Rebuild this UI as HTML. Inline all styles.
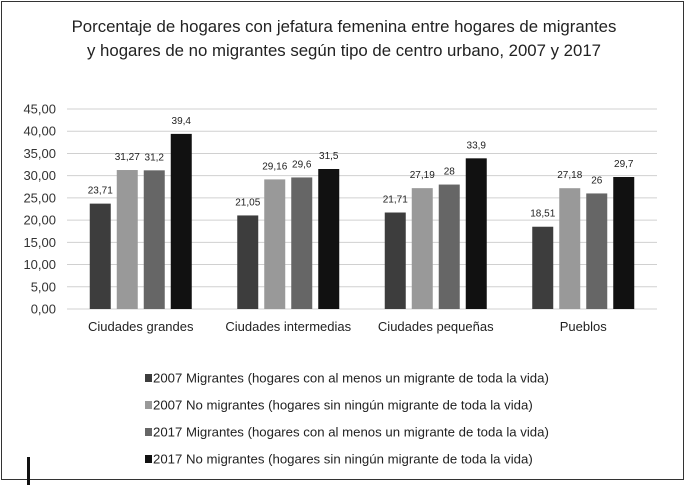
<!DOCTYPE html>
<html><head><meta charset="utf-8"><style>
body{margin:0;background:#fff;width:688px;height:485px;overflow:hidden;font-family:"Liberation Sans",sans-serif}
#frame{position:absolute;left:1px;top:1px;width:683px;height:479px;border:1.5px solid #333;box-sizing:border-box}
</style></head><body>
<div id="frame"></div>
<svg width="688" height="485" style="position:absolute;left:0;top:0">
<text x="344" y="32" text-anchor="middle" font-size="16.8" fill="#222">Porcentaje de hogares con jefatura femenina entre hogares de migrantes</text>
<text x="344" y="56" text-anchor="middle" font-size="16.8" fill="#222">y hogares de no migrantes según tipo de centro urbano, 2007 y 2017</text>
<g id="grid"></g><g id="bars"></g><g id="legend"></g>
<rect x="27" y="457" width="3" height="28" fill="#111"/>
</svg>
<script>
const categories=["Ciudades grandes","Ciudades intermedias","Ciudades pequeñas","Pueblos"];
const s2007m=[23.71,21.05,21.71,18.51];
const s2007n=[31.27,29.16,27.19,27.18];
const s2017m=[31.2,29.6,28,26];
const s2017n=[39.4,31.5,33.9,29.7];
const labels2007m=["23,71","21,05","21,71","18,51"];
const labels2007n=["31,27","29,16","27,19","27,18"];
const labels2017m=["31,2","29,6","28","26"];
const labels2017n=["39,4","31,5","33,9","29,7"];
const ticks=[0,5,10,15,20,25,30,35,40,45];
const tickLabels=["0,00","5,00","10,00","15,00","20,00","25,00","30,00","35,00","40,00","45,00"];
const seriesNames=["2007 Migrantes (hogares con al menos un migrante de toda la vida)","2007 No migrantes (hogares sin ningún migrante de toda la vida)","2017 Migrantes (hogares con al menos un migrante de toda la vida)","2017 No migrantes (hogares sin ningún migrante de toda la vida)"];
const colors=["#3d3d3d","#999999","#666666","#111111"];
const NS="http://www.w3.org/2000/svg";
const x0=67,x1=657,yb=309,yt=109,vmax=45;
const y=v=>yb-v*(yb-yt)/vmax;
const band=(x1-x0)/categories.length;
const cx=i=>x0+band*(i+0.5);
function mk(t,a,p){const e=document.createElementNS(NS,t);for(const k in a)e.setAttribute(k,a[k]);p.appendChild(e);return e;}
const g=document.getElementById('grid');
ticks.forEach((t,i)=>{
 const l=mk('line',{x1:x0,x2:x1,y1:y(t),y2:y(t),stroke:'#d0d0d0','stroke-width':1},g);
 
 
 const tx=mk('text',{x:56,y:y(t)+4.5,'text-anchor':'end','font-size':13,fill:'#333'},g);
 tx.textContent=tickLabels[i];
 
 
});
const series=[s2007m,s2007n,s2017m,s2017n],labs=[labels2007m,labels2007n,labels2017m,labels2017n];
const b=document.getElementById('bars');
const bw=21,gap=6;
categories.forEach((c,i)=>{
 const start=cx(i)-(4*bw+3*gap)/2;
 series.forEach((s,j)=>{
  const bx=start+j*(bw+gap);
  const r=mk('rect',{x:bx,y:y(s[i]),width:bw,height:yb-y(s[i]),fill:colors[j]},b);
  
  
  const t=mk('text',{x:bx+bw/2,y:y(s[i])-10,'text-anchor':'middle','font-size':10,fill:'#222'},b);
  t.textContent=labs[j][i];
  
  
 });
 const t=mk('text',{x:cx(i),y:331,'text-anchor':'middle','font-size':13,fill:'#222'},b);
 t.textContent=c;
 
 
});
const lg=document.getElementById('legend');
seriesNames.forEach((n,j)=>{
 const yy=378+j*27;
 const r=mk('rect',{x:145,y:yy-4,width:7,height:8,fill:colors[j]},lg);
 
 
 const t=mk('text',{x:153,y:yy+4.5,'font-size':13.2,fill:'#222'},lg);
 t.textContent=n;
 
 
});
</script>
</body></html>
